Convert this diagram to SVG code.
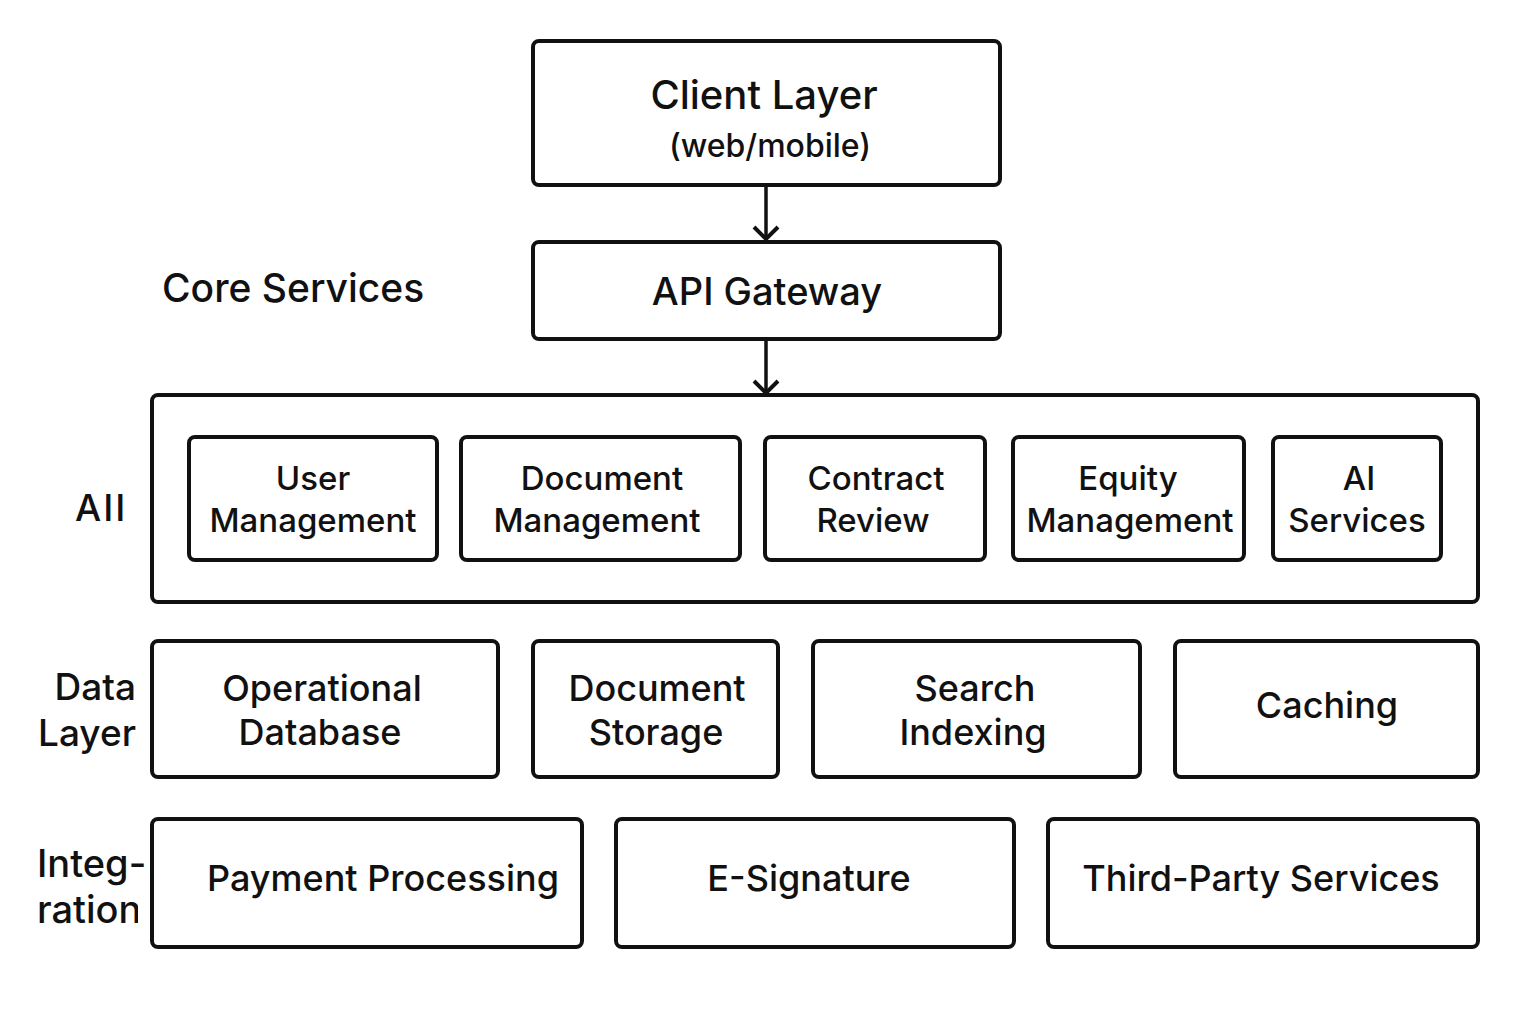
<svg xmlns="http://www.w3.org/2000/svg" width="1536" height="1024" viewBox="0 0 1536 1024">
<defs>
<style>
.box{fill:#fff;stroke:#111;stroke-width:4}
.t{font-family:Inter,"Liberation Sans",sans-serif;fill:#111;text-anchor:middle;font-weight:500}
.lbl{font-family:Inter,"Liberation Sans",sans-serif;fill:#111;font-weight:500}
.c{stroke:#111;stroke-width:3.5;fill:none}
</style>
<marker id="arr" viewBox="0 0 30 30" refX="16" refY="15" markerWidth="30" markerHeight="30" markerUnits="userSpaceOnUse" orient="auto">
<path d="M4,3 L16,15 L4,27" fill="none" stroke="#111" stroke-width="4"/>
</marker>
<clipPath id="clipInt"><rect x="0" y="890" width="138" height="60"/></clipPath>
</defs>
<rect width="1536" height="1024" fill="#fff"/>

<g id="client">
<rect class="box" x="533" y="41" width="467" height="144" rx="6"/>
<text class="t" x="764" y="109" font-size="40">Client Layer</text>
<text class="t" x="770" y="157" font-size="32" font-weight="400">(web/mobile)</text>
</g>
<g id="gateway">
<rect class="box" x="533" y="242" width="467" height="97" rx="6"/>
<text class="t" x="767" y="305" font-size="38">API Gateway</text>
</g>
<text class="lbl" x="162" y="302" font-size="39">Core Services</text>

<g id="core">
<rect class="box" x="152" y="395" width="1326" height="207" rx="6"/>
<text class="lbl" x="75" y="521" font-size="37" letter-spacing="2">AII</text>
</g>
<g id="user">
<rect class="box" x="189" y="437" width="248" height="123" rx="6"/>
<text class="t" x="313" y="490" font-size="33">User</text>
<text class="t" x="313" y="532" font-size="33">Management</text>
</g>
<g id="docmgmt">
<rect class="box" x="461" y="437" width="279" height="123" rx="6"/>
<text class="t" x="602" y="490" font-size="33">Document</text>
<text class="t" x="597" y="532" font-size="33">Management</text>
</g>
<g id="contract">
<rect class="box" x="765" y="437" width="220" height="123" rx="6"/>
<text class="t" x="876" y="490" font-size="33">Contract</text>
<text class="t" x="873" y="532" font-size="33">Review</text>
</g>
<g id="equity">
<rect class="box" x="1013" y="437" width="231" height="123" rx="6"/>
<text class="t" x="1128" y="490" font-size="33">Equity</text>
<text class="t" x="1130" y="532" font-size="33">Management</text>
</g>
<g id="ai">
<rect class="box" x="1273" y="437" width="168" height="123" rx="6"/>
<text class="t" x="1359" y="490" font-size="33">AI</text>
<text class="t" x="1357" y="532" font-size="33">Services</text>
</g>

<text class="lbl" x="136" y="700" font-size="37" text-anchor="end">Data</text>
<text class="lbl" x="136" y="746" font-size="37" text-anchor="end">Layer</text>
<g id="opdb">
<rect class="box" x="152" y="641" width="346" height="136" rx="6"/>
<text class="t" x="322" y="701" font-size="36">Operational</text>
<text class="t" x="320" y="745" font-size="36">Database</text>
</g>
<g id="docstore">
<rect class="box" x="533" y="641" width="245" height="136" rx="6"/>
<text class="t" x="657" y="701" font-size="36">Document</text>
<text class="t" x="656" y="745" font-size="36">Storage</text>
</g>
<g id="search">
<rect class="box" x="813" y="641" width="327" height="136" rx="6"/>
<text class="t" x="975" y="701" font-size="36">Search</text>
<text class="t" x="973" y="745" font-size="36">Indexing</text>
</g>
<g id="caching">
<rect class="box" x="1175" y="641" width="303" height="136" rx="6"/>
<text class="t" x="1327" y="718" font-size="36">Caching</text>
</g>

<text class="lbl" x="37" y="877" font-size="38">Integ-</text>
<g clip-path="url(#clipInt)">
<text class="lbl" x="37" y="923" font-size="38">ration</text>
</g>
<g id="payment">
<rect class="box" x="152" y="819" width="430" height="128" rx="6"/>
<text class="t" x="383" y="891" font-size="36">Payment Processing</text>
</g>
<g id="esig">
<rect class="box" x="616" y="819" width="398" height="128" rx="6"/>
<text class="t" x="809" y="891" font-size="36">E-Signature</text>
</g>
<g id="thirdparty">
<rect class="box" x="1048" y="819" width="430" height="128" rx="6"/>
<text class="t" x="1261" y="891" font-size="36">Third-Party Services</text>
</g>

<g id="connectors">
<line class="c" x1="766" y1="187" x2="766" y2="239" marker-end="url(#arr)"/>
<line class="c" x1="766" y1="341" x2="766" y2="393" marker-end="url(#arr)"/>
</g>
</svg>
